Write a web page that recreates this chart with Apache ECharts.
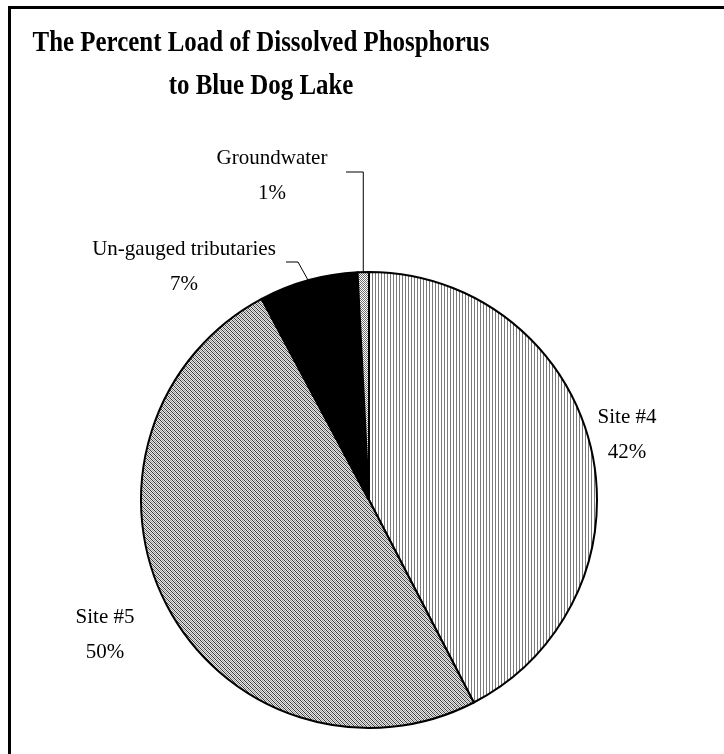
<!DOCTYPE html>
<html>
<head>
<meta charset="utf-8">
<script src="https://cdn.jsdelivr.net/npm/echarts@6/dist/echarts.min.js"></script>
<style>
html,body{margin:0;padding:0;background:#fff;}
#c{width:724px;height:754px;}
</style>
</head>
<body>
<div id="c"></div>
<script>
var titleLines = ['The Percent Load of Dissolved Phosphorus', 'to Blue Dog Lake'];
var categories = ['Site #4', 'Site #5', 'Un-gauged tributaries', 'Groundwater'];
var values = [42.4, 49.8, 7.0, 0.8];

function makePattern(w, h, fn) {
  var cv = document.createElement('canvas');
  cv.width = w; cv.height = h;
  var ctx = cv.getContext('2d');
  ctx.fillStyle = '#fff'; ctx.fillRect(0, 0, w, h);
  for (var y = 0; y < h; y++) for (var x = 0; x < w; x++) {
    var c = fn(x, y);
    if (c) { ctx.fillStyle = c; ctx.fillRect(x, y, 1, 1); }
  }
  return cv;
}
var patVert = makePattern(3, 1, function (x) { return x === 0 ? '#7a7a7a' : null; });
var patDiag = makePattern(4, 4, function (x, y) {
  if ((x + y) % 2 === 0) {
    var d = ((x - y) % 4 + 4) % 4;
    return d === 0 ? '#3a3a3a' : '#9a9a9a';
  }
  return '#e6e6e6';
});
var patDots = makePattern(2, 2, function (x, y) { return (x + y) % 2 === 0 ? '#707070' : null; });
var fills = [
  {image: patVert, repeat: 'repeat'},
  {image: patDiag, repeat: 'repeat'},
  '#000000',
  {image: patDots, repeat: 'repeat'}
];
var labelPos = [[627, 435], [105, 635], [184, 267], [272, 176]];

var chart = echarts.init(document.getElementById('c'), null, {renderer: 'canvas'});
chart.setOption({
  animation: false,
  backgroundColor: '#fff',
  title: {show: false, text: titleLines.join('\n')},
  graphic: [{
    type: 'rect', left: 7, top: 5, silent: true,
    shape: {width: 740, height: 780},
    style: {fill: null, stroke: '#000', lineWidth: 3}
  }].concat(titleLines.map(function (t, i) {
    return {
      type: 'text', x: 261, y: 43 + i * 43, scaleX: 0.83, silent: true,
      style: {text: t, fill: '#000', font: 'bold 30px "Liberation Serif"', textAlign: 'center', textVerticalAlign: 'middle'}
    };
  })),
  series: [{
    type: 'pie',
    center: [369, 500],
    radius: 228,
    startAngle: 90,
    clockwise: true,
    percentPrecision: 0,
    data: categories.map(function (n, i) {
      return {name: n, value: values[i], itemStyle: {color: fills[i]}};
    }),
    itemStyle: {borderColor: '#000', borderWidth: 2},
    label: {
      show: true, position: 'outside', overflow: 'none',
      formatter: '{b}\n{d}%',
      fontFamily: 'Liberation Serif', fontSize: 21, lineHeight: 35, color: '#000', align: 'center'
    },
    labelLine: {show: true, lineStyle: {color: '#000', width: 1}},
    labelLayout: function (p) {
      var pos = labelPos[p.dataIndex];
      var res = {x: pos[0], y: pos[1], align: 'center', verticalAlign: 'middle', width: 260};
      var s = p.labelLinePoints ? p.labelLinePoints[0] : null;
      if (p.dataIndex === 3 && s) res.labelLinePoints = [[s[0], s[1]], [s[0], 172], [346, 172]];
      else if (p.dataIndex === 2 && s) res.labelLinePoints = [[s[0], s[1]], [298, 262], [286, 262]];
      else res.labelLinePoints = [[0, 0], [0, 0], [0, 0]];
      return res;
    },
    emphasis: {disabled: true}
  }]
});
</script>
</body>
</html>
